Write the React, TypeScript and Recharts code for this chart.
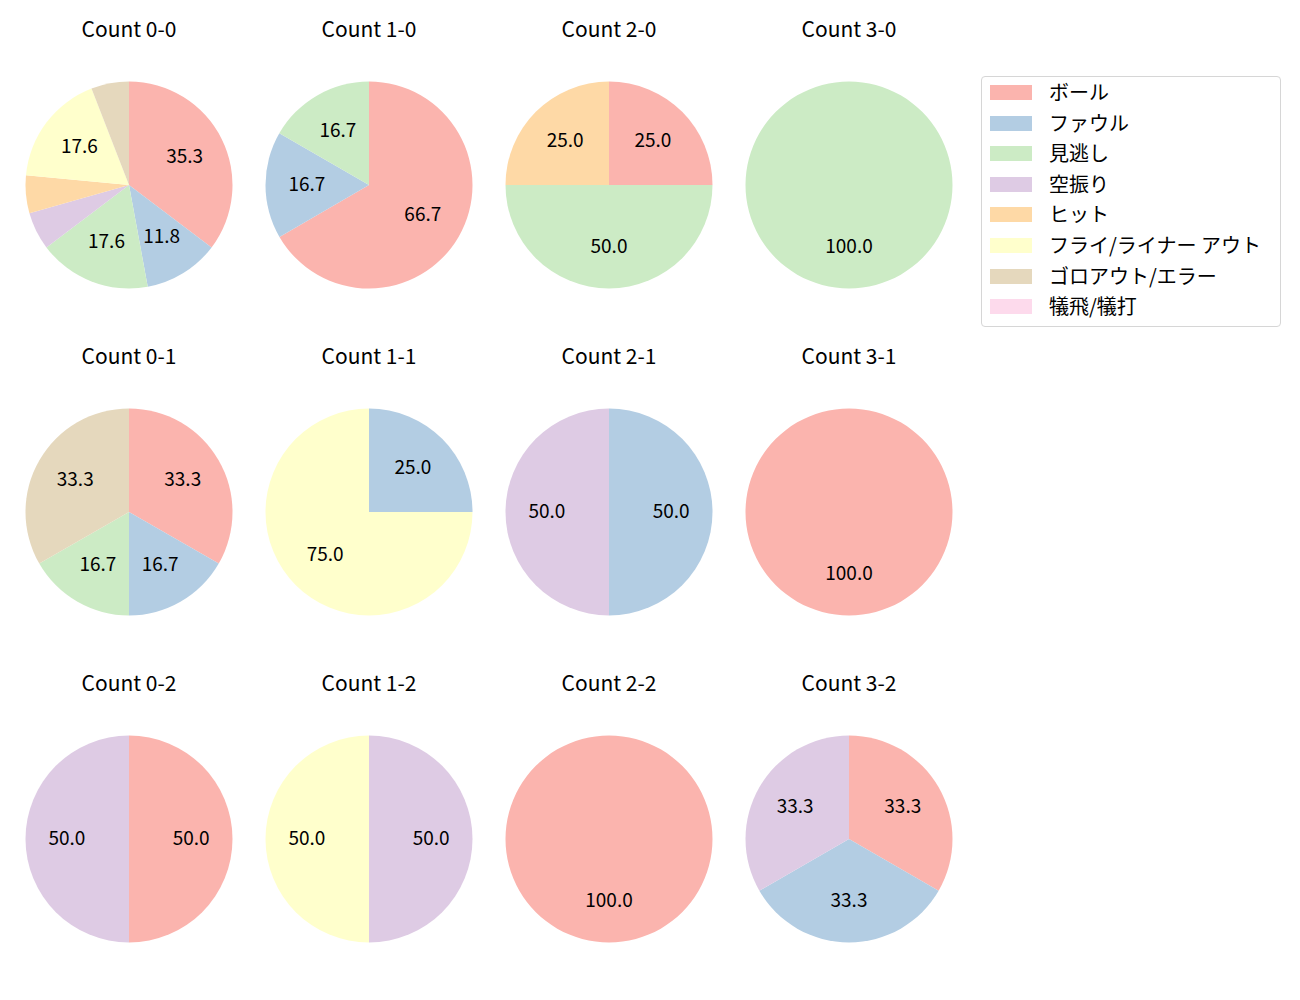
import React from 'react';
import { PieChart, Pie, Cell } from 'recharts';

// result categories (legend order) and Pastel1 colours
const CATEGORIES = ['ボール', 'ファウル', '見逃し', '空振り', 'ヒット', 'フライ/ライナー アウト', 'ゴロアウト/エラー', '犠飛/犠打'];
const COLORS = ['#fbb4ae', '#b3cde3', '#ccebc5', '#decbe4', '#fed9a6', '#ffffcc', '#e5d8bd', '#fddaec'];

// percentages per count, same order as CATEGORIES
const count00 = [35.3, 11.8, 17.6, 5.9, 5.9, 17.6, 5.9, 0];
const count10 = [66.7, 16.7, 16.7, 0, 0, 0, 0, 0];
const count20 = [25.0, 0, 50.0, 0, 25.0, 0, 0, 0];
const count30 = [0, 0, 100.0, 0, 0, 0, 0, 0];
const count01 = [33.3, 16.7, 16.7, 0, 0, 0, 33.3, 0];
const count11 = [0, 25.0, 0, 0, 0, 75.0, 0, 0];
const count21 = [0, 50.0, 0, 50.0, 0, 0, 0, 0];
const count31 = [100.0, 0, 0, 0, 0, 0, 0, 0];
const count02 = [50.0, 0, 0, 50.0, 0, 0, 0, 0];
const count12 = [0, 0, 0, 50.0, 0, 50.0, 0, 0];
const count22 = [100.0, 0, 0, 0, 0, 0, 0, 0];
const count32 = [33.3, 33.3, 0, 33.3, 0, 0, 0, 0];

const GRID = [
  [{ title: 'Count 0-0', values: count00 }, { title: 'Count 1-0', values: count10 }, { title: 'Count 2-0', values: count20 }, { title: 'Count 3-0', values: count30 }],
  [{ title: 'Count 0-1', values: count01 }, { title: 'Count 1-1', values: count11 }, { title: 'Count 2-1', values: count21 }, { title: 'Count 3-1', values: count31 }],
  [{ title: 'Count 0-2', values: count02 }, { title: 'Count 1-2', values: count12 }, { title: 'Count 2-2', values: count22 }, { title: 'Count 3-2', values: count32 }],
];

const FONT = '"Noto Sans CJK JP", "Noto Sans", sans-serif';
const RADIAN = Math.PI / 180;
const R = 103.5;
const BOX = 240;

const renderLabel = ({ cx, cy, midAngle, outerRadius, value }: any) => {
  if (value < 10) return null;
  const r = outerRadius * 0.6;
  const x = cx + r * Math.cos(-midAngle * RADIAN);
  const y = cy + r * Math.sin(-midAngle * RADIAN) - 3;
  return (
    <text x={x} y={y} textAnchor="middle" dominantBaseline="central" fill="#000" fontSize={19} fontFamily={FONT}>
      {value.toFixed(1)}
    </text>
  );
};

const SmallPie = ({ title, values, left, top }: { title: string; values: number[]; left: number; top: number }) => {
  const data = values
    .map((v, i) => ({ name: CATEGORIES[i], value: v, color: COLORS[i] }))
    .filter(d => d.value > 0);
  return (
    <div style={{ position: 'absolute', left, top, width: BOX, height: 300 }}>
      <div style={{ position: 'absolute', left: 0, top: -2, width: BOX, textAlign: 'center', fontSize: 21, lineHeight: '26px', fontFamily: FONT, color: '#000' }}>
        {title}
      </div>
      <div style={{ position: 'absolute', left: 0, top: 48 }}>
        <PieChart width={BOX} height={BOX} margin={{ top: 0, right: 0, bottom: 0, left: 0 }}>
          <Pie
            data={data}
            dataKey="value"
            cx={BOX / 2}
            cy={BOX / 2}
            outerRadius={R}
            startAngle={90}
            endAngle={-270}
            stroke="none"
            label={renderLabel}
            labelLine={false}
            isAnimationActive={false}
          >
            {data.map(d => <Cell key={d.name} fill={d.color} />)}
          </Pie>
        </PieChart>
      </div>
    </div>
  );
};

const App = () => (
  <div style={{ position: 'absolute', left: 0, top: 0, width: 1300, height: 1000, background: '#fff' }}>
    {GRID.map((row, ri) =>
      row.map((cell, ci) => (
        <SmallPie key={cell.title} title={cell.title} values={cell.values} left={9 + ci * 240} top={17 + ri * 327} />
      ))
    )}
    <div style={{ position: 'absolute', left: 981, top: 76, width: 298, height: 249, border: '1px solid #d6d6d6', borderRadius: 4, boxSizing: 'content-box' }}>
      {CATEGORIES.map((name, i) => (
        <div key={name} style={{ position: 'absolute', left: 8, top: 8 + i * 30.6, height: 15, display: 'flex', alignItems: 'center' }}>
          <div style={{ width: 42, height: 15, background: COLORS[i] }} />
          <span style={{ marginLeft: 17, fontSize: 20, fontFamily: FONT, color: '#000', whiteSpace: 'nowrap', position: 'relative', top: -1 }}>{name}</span>
        </div>
      ))}
    </div>
  </div>
);

export default App;
